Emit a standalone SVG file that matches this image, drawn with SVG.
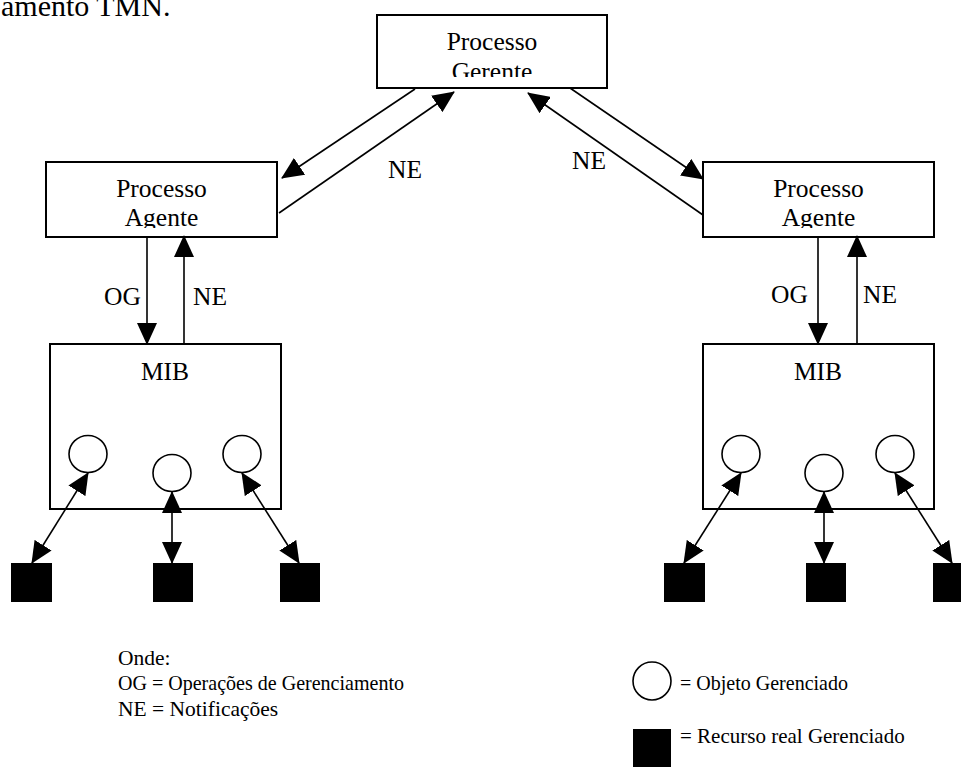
<svg xmlns="http://www.w3.org/2000/svg" width="961" height="767" viewBox="0 0 961 767">
<style>
text{font-family:"Liberation Serif","Times New Roman",serif;fill:#000}
.lbl{font-size:25.5px}
.lg{font-size:21.5px}
.lg2{font-size:21px}
.box{fill:#fff;stroke:#000;stroke-width:2}
.ln{stroke:#000;stroke-width:1.6;fill:none}
.obj{fill:#fff;stroke:#000;stroke-width:1.6}
.res{fill:#000}
</style>
<defs>
<marker id="ah" markerUnits="userSpaceOnUse" markerWidth="22" markerHeight="20" refX="21" refY="10" orient="auto-start-reverse">
<path d="M0,0 L22,10 L0,20 z" fill="#000"/>
</marker>
<clipPath id="cG"><rect x="377" y="15" width="230" height="62"/></clipPath>
<clipPath id="cA1"><rect x="46" y="162" width="231" height="66"/></clipPath>
<clipPath id="cA2"><rect x="703" y="162" width="231" height="66"/></clipPath>
</defs>
<rect width="961" height="767" fill="#fff"/>
<text x="1" y="16" style="font-size:30px">amento TMN.</text>

<g id="gerente">
<rect class="box" x="377" y="15" width="230" height="73"/>
<g clip-path="url(#cG)">
<text class="lbl" x="492" y="50" text-anchor="middle">Processo</text>
<text class="lbl" x="492" y="80" text-anchor="middle">Gerente</text>
</g>
</g>

<g id="agente1">
<rect class="box" x="46" y="162" width="231" height="75"/>
<g clip-path="url(#cA1)">
<text class="lbl" x="161.5" y="197" text-anchor="middle">Processo</text>
<text class="lbl" x="161.5" y="226" text-anchor="middle">Agente</text>
</g>
</g>

<g id="agente2">
<rect class="box" x="703" y="162" width="231" height="75"/>
<g clip-path="url(#cA2)">
<text class="lbl" x="818.5" y="197" text-anchor="middle">Processo</text>
<text class="lbl" x="818.5" y="226" text-anchor="middle">Agente</text>
</g>
</g>

<g id="mib1">
<rect class="box" x="50" y="344" width="231" height="165"/>
<text class="lbl" x="165" y="380" text-anchor="middle">MIB</text>
<ellipse class="obj" cx="88" cy="454" rx="19" ry="18.5"/>
<ellipse class="obj" cx="172" cy="473" rx="19" ry="18.5"/>
<ellipse class="obj" cx="242" cy="454" rx="19" ry="18.5"/>
</g>

<g id="mib2">
<rect class="box" x="703" y="344" width="231" height="165"/>
<text class="lbl" x="818" y="380" text-anchor="middle">MIB</text>
<ellipse class="obj" cx="741" cy="454" rx="19" ry="18.5"/>
<ellipse class="obj" cx="824" cy="473" rx="19" ry="18.5"/>
<ellipse class="obj" cx="895" cy="454" rx="19" ry="18.5"/>
</g>

<g id="recursos1">
<rect class="res" x="11" y="563" width="41" height="39"/>
<rect class="res" x="153" y="563" width="40" height="39"/>
<rect class="res" x="280" y="563" width="40" height="39"/>
</g>
<g id="recursos2">
<rect class="res" x="664" y="563" width="41" height="39"/>
<rect class="res" x="806" y="563" width="40" height="39"/>
<rect class="res" x="933" y="563" width="40" height="39"/>
</g>

<g id="connectors">
<line class="ln" x1="415" y1="89" x2="282" y2="178" marker-end="url(#ah)"/>
<line class="ln" x1="279" y1="213" x2="454" y2="92" marker-end="url(#ah)"/>
<line class="ln" x1="570" y1="88" x2="703" y2="179" marker-end="url(#ah)"/>
<line class="ln" x1="703" y1="215" x2="528" y2="93" marker-end="url(#ah)"/>
<line class="ln" x1="147" y1="236" x2="147" y2="344" marker-end="url(#ah)"/>
<line class="ln" x1="184" y1="344" x2="184" y2="236" marker-end="url(#ah)"/>
<line class="ln" x1="818" y1="236" x2="818" y2="344" marker-end="url(#ah)"/>
<line class="ln" x1="857" y1="344" x2="857" y2="236" marker-end="url(#ah)"/>
<line class="ln" x1="88" y1="473" x2="32" y2="563" marker-start="url(#ah)" marker-end="url(#ah)"/>
<line class="ln" x1="172" y1="492" x2="172" y2="563" marker-start="url(#ah)" marker-end="url(#ah)"/>
<line class="ln" x1="242" y1="473" x2="299" y2="563" marker-start="url(#ah)" marker-end="url(#ah)"/>
<line class="ln" x1="741" y1="473" x2="684" y2="563" marker-start="url(#ah)" marker-end="url(#ah)"/>
<line class="ln" x1="824" y1="492" x2="824" y2="563" marker-start="url(#ah)" marker-end="url(#ah)"/>
<line class="ln" x1="895" y1="473" x2="952" y2="563" marker-start="url(#ah)" marker-end="url(#ah)"/>
</g>

<g id="labels">
<text class="lbl" x="388" y="178">NE</text>
<text class="lbl" x="572" y="169">NE</text>
<text class="lbl" x="104" y="305">OG</text>
<text class="lbl" x="193" y="305">NE</text>
<text class="lbl" x="771" y="303">OG</text>
<text class="lbl" x="863" y="303">NE</text>
</g>

<g id="legenda">
<text class="lg" x="118" y="665">Onde:</text>
<text class="lg" x="118" y="690" textLength="286" lengthAdjust="spacingAndGlyphs">OG = Operações de Gerenciamento</text>
<text class="lg" x="118" y="716">NE = Notificações</text>
<ellipse class="obj" cx="652" cy="681" rx="19" ry="19"/>
<text class="lg2" x="680" y="690" textLength="168" lengthAdjust="spacingAndGlyphs">= Objeto Gerenciado</text>
<rect class="res" x="633" y="729" width="38" height="38"/>
<text class="lg2" x="680" y="743">= Recurso real Gerenciado</text>
</g>
</svg>
